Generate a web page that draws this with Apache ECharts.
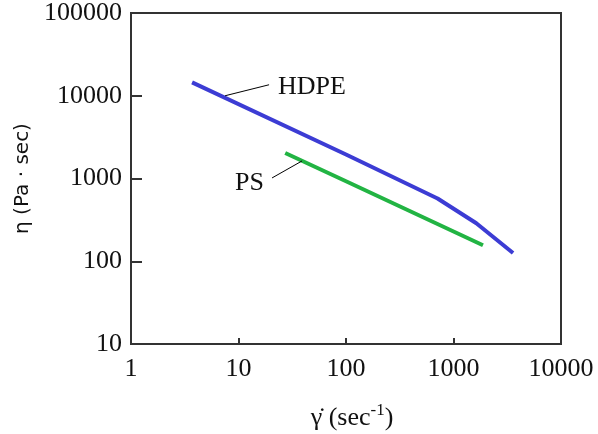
<!DOCTYPE html>
<html>
<head>
<meta charset="utf-8">
<script src="https://cdn.jsdelivr.net/npm/echarts@6/dist/echarts.min.js"></script>
<style>
html,body{margin:0;padding:0;background:#fff;}
#chart{width:598px;height:434px;}
</style>
</head>
<body>
<div id="chart"></div>
<script>
// Data (shear rate in 1/sec, viscosity in Pa·sec)
var hdpeData = [[3.7, 14500], [100, 1950], [711, 574], [1630, 288], [3580, 126]];
var psData = [[27.2, 2030], [100, 927], [1880, 156]];
var xTicks = [1, 10, 100, 1000, 10000];
var yTicks = [10, 100, 1000, 10000, 100000];
var seriesNames = ['HDPE', 'PS'];
var xTitle = ['γ̇ (sec', '-1', ')'];
var yTitle = 'η (Pa · sec)';
// annotation anchor points on the curves (data coordinates)
var hdpeLabelAnchor = [7.5, 10000];
var psLabelAnchor = [39, 1630];

var serif = "'Liberation Serif', 'Times New Roman', serif";
var chart = echarts.init(document.getElementById('chart'));

function fmt(v) { return String(Math.round(v)); }

var option = {
  animation: false,
  backgroundColor: '#fff',
  grid: {
    left: 131, right: 37, top: 9, bottom: 90,
    show: true, borderColor: '#333', borderWidth: 2, backgroundColor: 'transparent'
  },
  xAxis: {
    type: 'log', logBase: 10,
    min: xTicks[0], max: xTicks[xTicks.length - 1],
    axisLine: { show: true, lineStyle: { color: '#333', width: 2 } },
    axisTick: { show: true, inside: true, length: 6, lineStyle: { color: '#333', width: 2 } },
    minorTick: { show: false },
    splitLine: { show: false },
    axisLabel: { formatter: fmt, fontFamily: serif, fontSize: 26, color: '#111', margin: 12, showMinLabel: true, showMaxLabel: true }
  },
  yAxis: {
    type: 'log', logBase: 10,
    min: yTicks[0], max: yTicks[yTicks.length - 1],
    name: yTitle,
    nameLocation: 'middle', nameGap: 97,
    nameTextStyle: { fontFamily: "'DejaVu Sans', sans-serif", fontSize: 20, color: '#111' },
    axisLine: { show: true, lineStyle: { color: '#333', width: 2 } },
    axisTick: { show: true, inside: true, length: 11, lineStyle: { color: '#333', width: 2 } },
    minorTick: { show: false },
    splitLine: { show: false },
    axisLabel: { formatter: fmt, fontFamily: serif, fontSize: 26, color: '#111', margin: 9, showMinLabel: true, showMaxLabel: true }
  },
  series: [
    {
      name: seriesNames[0], type: 'line', data: hdpeData, showSymbol: false, symbol: 'none',
      lineStyle: { color: '#3c3cd4', width: 4 }
    },
    {
      name: seriesNames[1], type: 'line', data: psData, showSymbol: false, symbol: 'none',
      lineStyle: { color: '#22b443', width: 4 }
    }
  ]
};
chart.setOption(option);

// annotations: leader lines + labels anchored to curve points
var h = chart.convertToPixel({ gridIndex: 0 }, hdpeLabelAnchor);
var p = chart.convertToPixel({ gridIndex: 0 }, psLabelAnchor);
var hEnd = [h[0] + 44, h[1] - 11];
var pEnd = [p[0] - 30, p[1] + 17];
var gl = chart.convertToPixel({ gridIndex: 0 }, [xTicks[0], yTicks[0]]);
var gr = chart.convertToPixel({ gridIndex: 0 }, [xTicks[xTicks.length - 1], yTicks[0]]);
chart.setOption({
  graphic: [
    { type: 'line', shape: { x1: h[0], y1: h[1], x2: hEnd[0], y2: hEnd[1] }, style: { stroke: '#000', lineWidth: 1 }, z: 10 },
    { type: 'text', x: hEnd[0] + 9, y: hEnd[1] + 2, style: { text: seriesNames[0], fontFamily: serif, fontSize: 26, fill: '#111', verticalAlign: 'middle', align: 'left' }, z: 10 },
    { type: 'line', shape: { x1: p[0], y1: p[1], x2: pEnd[0], y2: pEnd[1] }, style: { stroke: '#000', lineWidth: 1 }, z: 10 },
    { type: 'text', x: pEnd[0] - 8, y: pEnd[1] + 5, style: { text: seriesNames[1], fontFamily: serif, fontSize: 26, fill: '#111', verticalAlign: 'middle', align: 'right' }, z: 10 },
    {
      type: 'text', x: (gl[0] + gr[0]) / 2 + 6, y: gl[1] + 74, z: 10,
      style: {
        text: '{t|' + xTitle[0] + '}{s|' + xTitle[1] + '}{t|' + xTitle[2] + '}',
        align: 'center', verticalAlign: 'middle',
        rich: {
          t: { fontFamily: serif, fontSize: 26, fill: '#111' },
          s: { fontFamily: serif, fontSize: 17, fill: '#111', padding: [0, 0, 14, 0] }
        }
      }
    }
  ]
});
</script>
</body>
</html>
